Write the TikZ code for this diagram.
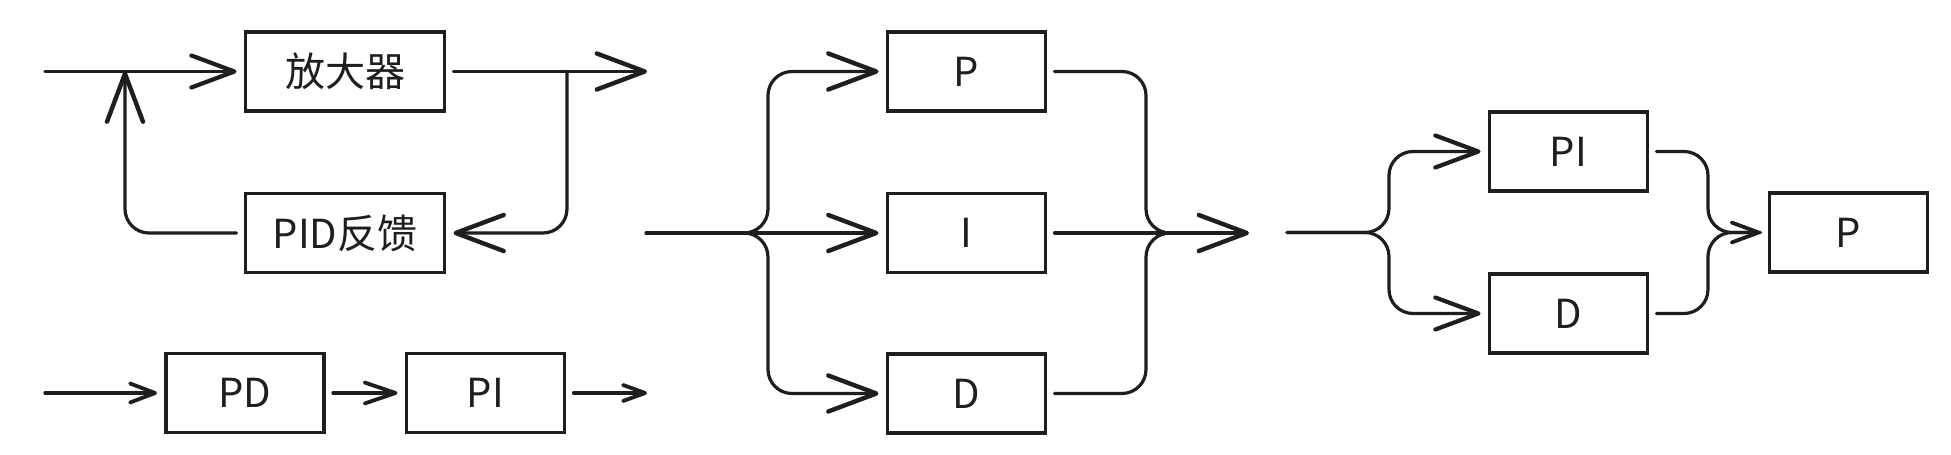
\documentclass[tikz,border=0pt]{standalone}
\usepackage{fontspec}
\setmainfont{Noto Sans CJK SC}
\usetikzlibrary{arrows.meta}
\definecolor{ink}{HTML}{1E1E1E}
\begin{document}
\begin{tikzpicture}[x=0.5pt,y=-0.5pt,
  box/.style={draw=ink, line width=1.65pt, minimum width=79pt, minimum height=39.5pt,
    inner sep=0pt, outer sep=4.5pt, font=\fontsize{20}{20}\selectfont, text=ink},
  widebox/.style={box, minimum width=99.5pt},
  conn/.style={draw=ink, line width=1.6pt, line cap=round, line join=round, rounded corners=12pt},
  arrL/.style={conn, -{Straight Barb[length=24pt,width=18pt,line width=2.2pt,round]}},
  arrM/.style={conn, -{Straight Barb[length=21.5pt,width=16pt,line width=2.1pt,round]}},
  arrS/.style={conn, -{Straight Barb[length=13.5pt,width=10pt,line width=1.9pt,round]}},
  arrT/.style={conn, -{Straight Barb[length=12.5pt,width=9.5pt,line width=1.9pt,round]}},
  arrU/.style={conn, -{Straight Barb[length=15.5pt,width=10.5pt,line width=1.9pt,round]}},
  arrX/.style={conn, -{Straight Barb[length=11pt,width=8pt,line width=1.9pt,round]}}]
\useasboundingbox (0,0) rectangle (1951,455);
\fill[white] (0,0) rectangle (1951,455);
% nodes
\node[widebox] (amp) at (345,71.5) {放大器};
\node[widebox] (pid) at (345,233) {PID反馈};
\node[box] (pd) at (245,393) {PD};
\node[box] (pia) at (485.5,393) {PI};
\node[box] (p) at (966.5,71.5) {P};
\node[box] (i) at (966.5,233) {I};
\node[box] (d) at (966.5,393.5) {D};
\node[box] (pib) at (1568.5,151.5) {PI};
\node[box] (db) at (1568.5,313.5) {D};
\node[box] (pc) at (1848.5,232.5) {P};
% coordinates
\coordinate (inA) at (45,71.5);
\coordinate (outA) at (647,71.5);
\coordinate (brA) at (567,71.5);
\coordinate (sumA) at (125,71.5);
\coordinate (inB) at (45,393);
\coordinate (outB) at (647,393);
\coordinate (inM) at (646,233);
\coordinate (brM) at (744,233);
\coordinate (colM) at (768,233);
\coordinate (colN) at (1146,233);
\coordinate (mgN) at (1171,233);
\coordinate (outM) at (1249,233);
\coordinate (inR) at (1287,232.5);
\coordinate (colR) at (1389,232.5);
\coordinate (colS) at (1708,232.5);
% top-left loop
\draw[arrM] (inA) -- (amp.west);
\draw[arrL] (amp.east) -- (outA);
\draw[arrL] (brA) |- (pid.east);
\draw[arrL] (pid.west) -| (sumA);
% bottom-left series
\draw[arrT] (inB) -- (pd.west);
\draw[arrU] (pd.east) -- (pia.west);
\draw[arrX] (pia.east) -- (outB);
% middle parallel
\draw[arrL] (inM) -- (i.west);
\draw[arrL] (brM) -- (colM) |- (p.west);
\draw[arrL] (brM) -- (colM) |- (d.west);
\draw[conn] (p.east) -| (colN) -- (mgN);
\draw[conn] (d.east) -| (colN) -- (mgN);
\draw[arrL] (i.east) -- (outM);
% right group
\draw[arrM] (inR) -- (colR) |- (pib.west);
\draw[arrM] (inR) -- (colR) |- (db.west);
\draw[conn] (pib.east) -| (colS) -- (pc.west);
\draw[arrS] (db.east) -| (colS) -- (pc.west);
\end{tikzpicture}
\end{document}
